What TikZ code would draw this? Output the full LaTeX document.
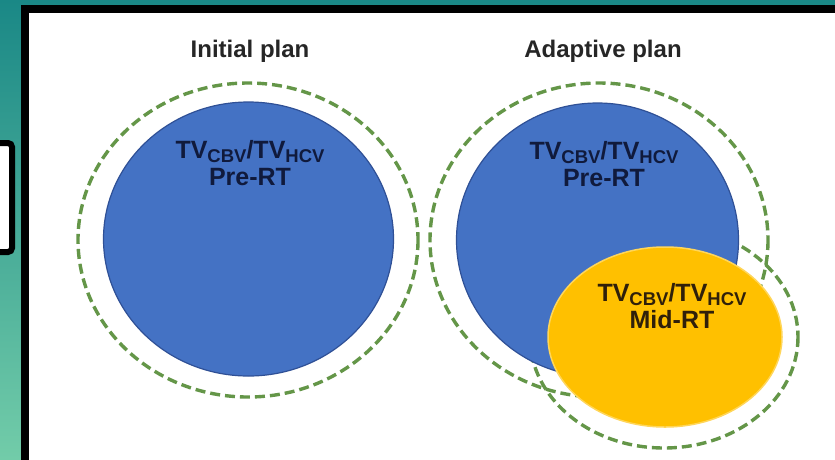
\documentclass[tikz,border=0pt]{standalone}
\usepackage{fontspec}
\setmainfont{Liberation Sans}
\definecolor{bgtop}{RGB}{26,136,134}
\definecolor{bgbot}{RGB}{114,204,169}
\definecolor{tvblue}{RGB}{68,114,196}
\definecolor{tvblueedge}{RGB}{47,80,150}
\definecolor{tvyellow}{RGB}{255,192,0}
\definecolor{tvyellowedge}{RGB}{255,214,90}
\definecolor{dashgreen}{RGB}{100,150,72}
\definecolor{navytext}{RGB}{16,26,60}
\definecolor{browntext}{RGB}{48,32,10}
\definecolor{titletext}{RGB}{38,38,38}
\newcommand{\subtx}[1]{\raisebox{-0.18em}{\fontsize{18.5}{18.5}\selectfont #1}}
\tikzset{
  dashline/.style={draw=dashgreen, line width=3.4pt, dash pattern=on 10pt off 5pt},
  titlelbl/.style={font=\fontsize{24}{26}\selectfont\bfseries, text=titletext, inner sep=0pt, anchor=base},
  tvlbl/.style={font=\fontsize{25}{27}\selectfont\bfseries, align=center, inner sep=0pt, anchor=base}
}
\begin{document}
\begin{tikzpicture}[x=1pt,y=-1pt]
\useasboundingbox (0,0) rectangle (835,459);
\shade[top color=bgtop, bottom color=bgbot] (0,0) rectangle (835,459);
% small box at left edge
\draw[line width=6pt, rounded corners=4pt, fill=white] (-20,143) rectangle (12,252);
% white framed panel
\begin{scope}
\clip (0,0) rectangle (835,459);
\draw[line width=8pt, fill=white] (25,9) rectangle (840,475);
\end{scope}
% titles
\node[titlelbl] (tinit) at (250,57) {Initial plan};
\node[titlelbl] (tadapt) at (603,57) {Adaptive plan};
% dashed margins
\draw[dashline] (248,240) ellipse [x radius=170, y radius=157];
\draw[dashline] (599,240) ellipse [x radius=169, y radius=157];
\draw[dashline] (664,337) ellipse [x radius=134, y radius=111];
% volumes
\fill[tvblue, draw=tvblueedge, line width=1.2pt] (248.5,239) ellipse [x radius=145, y radius=137];
\fill[tvblue, draw=tvblueedge, line width=1.2pt] (597.5,240) ellipse [x radius=141, y radius=137];
\fill[tvyellow, draw=tvyellowedge, line width=1.5pt] (665,337) ellipse [x radius=117, y radius=90];
% labels (base anchor = baseline of the last line)
\node[tvlbl, text=navytext] (lpre) at (250,185) {TV\subtx{CBV}/TV\subtx{HCV}\\Pre-RT};
\node[tvlbl, text=navytext] (rpre) at (604,186) {TV\subtx{CBV}/TV\subtx{HCV}\\Pre-RT};
\node[tvlbl, text=browntext] (mid) at (672,328) {TV\subtx{CBV}/TV\subtx{HCV}\\Mid-RT};
\end{tikzpicture}
\end{document}
